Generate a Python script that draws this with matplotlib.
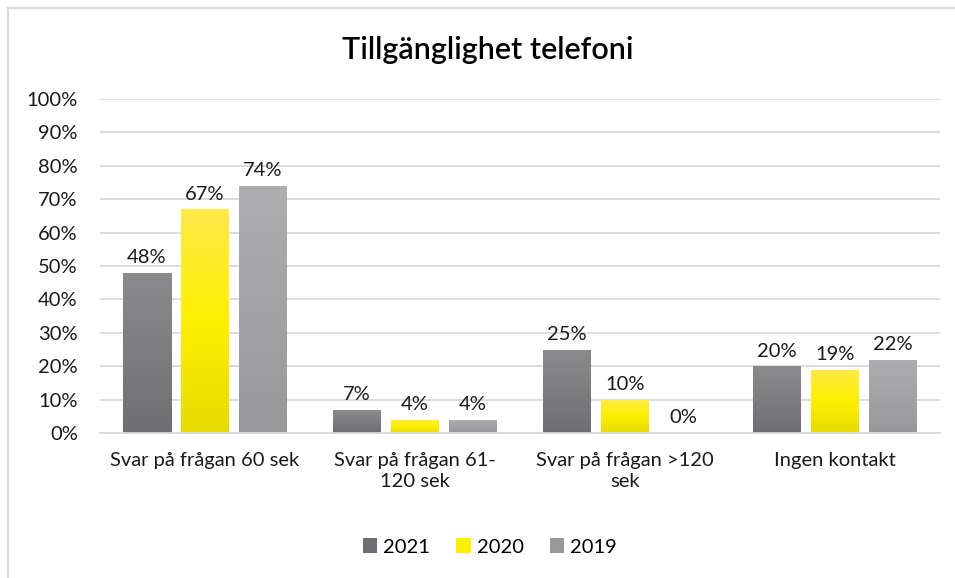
import matplotlib
matplotlib.use("Agg")
import matplotlib.pyplot as plt
import numpy as np
from matplotlib.colors import LinearSegmentedColormap
from matplotlib.patches import Rectangle

categories = ["Svar på frågan 60 sek", "Svar på frågan 61-\n120 sek",
              "Svar på frågan >120\nsek", "Ingen kontakt"]
years = ["2021", "2020", "2019"]
v2021 = [48, 7, 25, 20]
v2020 = [67, 4, 10, 19]
v2019 = [74, 4, 0, 22]

# top -> bottom gradient stops per series
gradients = {
    "2021": ["#8b8a8c", "#6f6e72"],
    "2020": ["#ffe94a", "#fff000", "#e6da00"],
    "2019": ["#aeaeb0", "#98989a"],
}

plt.rcParams["font.family"] = ["Lato", "DejaVu Sans"]
FS = 14.5
TXT = "#1a1a1a"

fig = plt.figure(figsize=(9.55, 5.78), dpi=100)
ax = fig.add_axes([100 / 955, 1 - 433 / 578, 840 / 955, 334 / 578])

x = np.arange(len(categories))
width = 48 / 210
step = 58 / 210
series = [v2021, v2020, v2019]

for i, (year, vals) in enumerate(zip(years, series)):
    cmap = LinearSegmentedColormap.from_list(year, gradients[year][::-1])
    grad = np.linspace(0, 1, 256).reshape(-1, 1)
    for xi, v in zip(x, vals):
        left = xi + (i - 1) * step - width / 2
        if v > 0:
            im = ax.imshow(grad, cmap=cmap, origin="lower", aspect="auto",
                           extent=[left, left + width, 0, v], zorder=2)
            clip = Rectangle((left, 0), width, v, transform=ax.transData,
                             facecolor="none", edgecolor="none")
            ax.add_patch(clip)
            im.set_clip_path(clip)
        ax.text(left + width / 2, v + 2.0, f"{v}%", ha="center", va="bottom",
                fontsize=FS, color=TXT)

ax.set_xlim(-0.5, len(categories) - 0.5)
ax.set_ylim(0, 100)
ax.set_yticks(np.arange(0, 101, 10))
ax.set_yticklabels([f"{t}%" for t in range(0, 101, 10)])
ax.set_xticks(x)
ax.set_xticklabels(categories, fontsize=FS, color=TXT, linespacing=1.25)
ax.tick_params(axis="y", labelsize=FS, colors=TXT, length=0, pad=16)
ax.tick_params(axis="x", length=0, pad=14)
ax.grid(axis="y", color="#d9d9d9", linewidth=1.3, zorder=0)
ax.set_axisbelow(True)
for s in ["top", "right", "left"]:
    ax.spines[s].set_visible(False)
ax.spines["bottom"].set_color("#d9d9d9")
ax.spines["bottom"].set_linewidth(1.3)

fig.text(488 / 955, 1 - 50 / 578, "Tillgänglighet telefoni", ha="center", va="center",
         fontsize=22, color="black", weight="semibold")

handles = [Rectangle((0, 0), 1, 1, facecolor=gradients[y][len(gradients[y]) // 2]) for y in years]
fig.legend(handles, years, loc="center", bbox_to_anchor=(490 / 955, 1 - 547 / 578), ncol=3,
           frameon=False, fontsize=FS, handlelength=0.7, handleheight=0.7,
           handletextpad=0.3, columnspacing=1.3)

# outer frame lines (top and left)
fig.add_artist(plt.Line2D([8 / 955, 1], [1 - 8 / 578, 1 - 8 / 578], color="#d9d9d9", linewidth=1.5))
fig.add_artist(plt.Line2D([8 / 955, 8 / 955], [0, 1 - 8 / 578], color="#d9d9d9", linewidth=1.5))

fig.savefig("out.png", dpi=100)
